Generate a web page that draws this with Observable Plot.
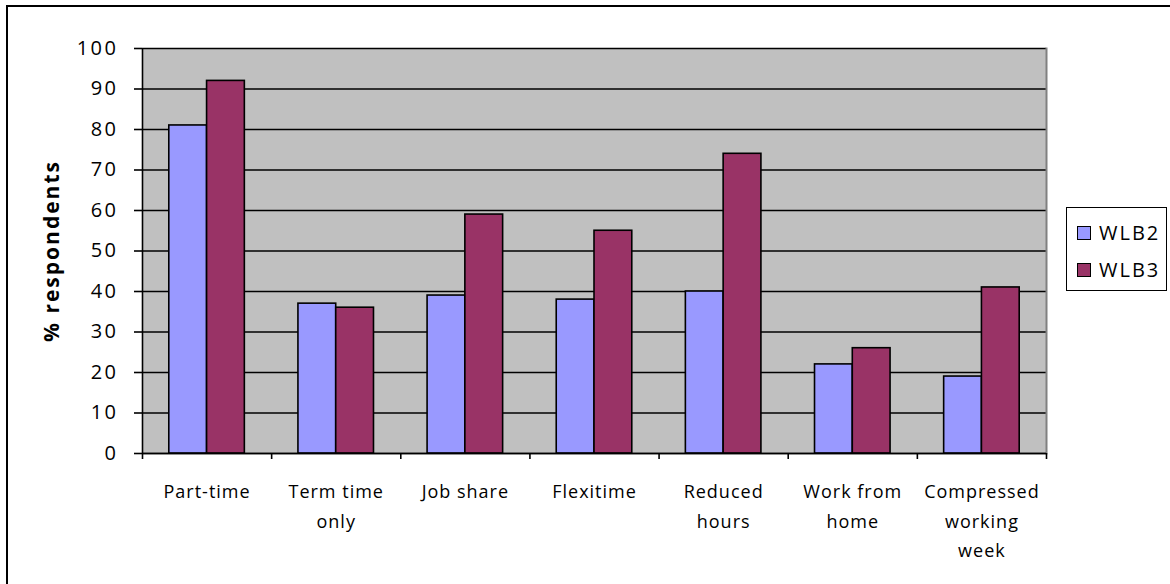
<!DOCTYPE html>
<html>
<head>
<meta charset="utf-8">
<script src="https://cdn.jsdelivr.net/npm/d3@7"></script>
<script src="https://cdn.jsdelivr.net/npm/@observablehq/plot@0.6"></script>
<style>
  html, body { margin: 0; padding: 0; background: #fff; overflow: hidden; }
  #chart { position: relative; width: 1170px; height: 584px; }
  #border {
    position: absolute; left: 6px; top: 5px; width: 1200px; height: 620px;
    border: 2px solid #000; box-sizing: border-box; pointer-events: none;
  }
  #legend {
    position: absolute; left: 1066px; top: 207px; width: 101px; height: 84px;
    box-sizing: border-box; border: 1.5px solid #000; background: #fff;
    font-family: "Open Sans", sans-serif; font-size: 20px; letter-spacing: 2px;
    padding: 8px 0 0 10px;
  }
  #legend .item { display: flex; align-items: center; height: 41px; margin-top: -4px; }
  #legend .swatch {
    width: 14px; height: 14px; box-sizing: border-box; border: 1.5px solid #000;
    margin-right: 8px; flex: none;
  }
  g[aria-label="y-axis tick label"] { letter-spacing: 2.5px; }
</style>
</head>
<body>
<div id="chart"><div id="border"></div></div>
<script>
// Flexible working arrangements offered, by survey wave
const categories = ["Part-time", "Term time only", "Job share", "Flexitime", "Reduced hours", "Work from home", "Compressed working week"];
const tickLabels = ["Part-time", "Term time\nonly", "Job share", "Flexitime", "Reduced\nhours", "Work from\nhome", "Compressed\nworking\nweek"];
const series = ["WLB2", "WLB3"];
const wlb2 = [81, 37, 39, 38, 40, 22, 19];
const wlb3 = [92, 36, 59, 55, 74, 26, 41];
const yTicks = [0, 10, 20, 30, 40, 50, 60, 70, 80, 90, 100];
const colors = ["#9999FF", "#993366"];

const valuesBySeries = [wlb2, wlb3];
const rows = categories.flatMap((category, i) =>
  series.map((s, j) => ({category, i, series: s, value: valuesBySeries[j][i]}))
);

// Each category occupies one unit on x; the pair of bars fills part of it
const groupShare = 0.585;
const barW = groupShare / 2;

const chart = Plot.plot({
  width: 1170,
  height: 584,
  marginTop: 48,
  marginBottom: 131,
  marginLeft: 142,
  marginRight: 124,
  style: {fontFamily: "Open Sans, sans-serif", fontSize: "18px", color: "#000", background: "transparent"},
  x: {type: "linear", domain: [0, categories.length], axis: null},
  y: {domain: [0, 100], axis: null},
  color: {domain: series, range: colors},
  marks: [
    Plot.frame({fill: "#C0C0C0"}),
    Plot.ruleY(yTicks, {stroke: "#000", strokeWidth: 1.6}),
    Plot.frame({anchor: "right", stroke: "#808080", strokeWidth: 2}),
    Plot.rectY(rows, {
      x1: d => d.i + 0.5 - (d.series === series[0] ? barW : 0),
      x2: d => d.i + 0.5 + (d.series === series[1] ? barW : 0),
      y1: 0,
      y2: "value",
      fill: "series",
      stroke: "#000",
      strokeWidth: 1.6
    }),
    Plot.ruleX([0], {stroke: "#000", strokeWidth: 1.6}),
    Plot.ruleY([0], {stroke: "#000", strokeWidth: 1.6}),
    // y axis ticks and labels
    Plot.axisY({
      ticks: yTicks,
      tickSize: 8,
      tickPadding: 16,
      fontSize: 20,
      stroke: "#000",
      strokeWidth: 1.6,
      label: null
    }),
    // category boundary ticks
    Plot.axisX({
      ticks: d3.range(categories.length + 1),
      tickSize: 6,
      tickFormat: () => "",
      stroke: "#000",
      strokeWidth: 1.6,
      label: null
    }),
    // category labels, centred under each pair of bars
    Plot.text(tickLabels, {
      x: (d, i) => i + 0.5,
      y: 0,
      dy: 24,
      lineAnchor: "top",
      lineHeight: 1.64,
      fontSize: 18,
      fill: "#000"
    }),
    Plot.text(["% respondents"], {
      frameAnchor: "left",
      textAnchor: "middle",
      dx: -90,
      rotate: -90,
      fontSize: 21,
      fontWeight: "bold",
      fill: "#000"
    })
  ]
});

// letter spacing for the two text marks (category labels, y label)
const textGroups = chart.querySelectorAll('g[aria-label="text"]');
if (textGroups[0]) textGroups[0].style.letterSpacing = "1px";
if (textGroups[1]) textGroups[1].style.letterSpacing = "2px";

const host = document.getElementById("chart");
host.insertBefore(chart, host.firstChild);

const legend = document.createElement("div");
legend.id = "legend";
series.forEach((s, j) => {
  const item = document.createElement("div");
  item.className = "item";
  const sw = document.createElement("span");
  sw.className = "swatch";
  sw.style.background = colors[j];
  const label = document.createElement("span");
  label.textContent = s;
  item.appendChild(sw);
  item.appendChild(label);
  legend.appendChild(item);
});
host.appendChild(legend);
</script>
</body>
</html>
